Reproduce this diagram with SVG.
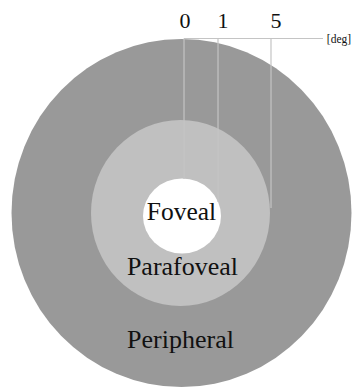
<svg xmlns="http://www.w3.org/2000/svg" width="355" height="389" viewBox="0 0 355 389">
<style>
.t{font-family:"Liberation Serif","Times New Roman",serif;fill:#111;text-anchor:middle}
.ln{stroke:#c4c4c4;stroke-width:1.2;fill:none}
</style>
<rect width="355" height="389" fill="#fff"/>
<g id="peripheral">
<ellipse cx="181.5" cy="213" rx="170" ry="174" fill="#999999"/>
</g>
<g id="parafoveal">
<ellipse cx="180.5" cy="213" rx="89.5" ry="93" fill="#c0c0c0"/>
</g>
<g id="foveal">
<ellipse cx="182" cy="216" rx="39" ry="37.5" fill="#ffffff"/>
</g>
<g id="connectors">
<line class="ln" x1="184" y1="38.5" x2="323" y2="38.5"/>
<line class="ln" x1="184" y1="38.5" x2="184" y2="179"/>
<line class="ln" x1="218" y1="38.5" x2="218" y2="202"/>
<line class="ln" x1="271" y1="38.5" x2="271" y2="208"/>
</g>
<g id="scale">
<text class="t" x="185" y="28" font-size="22">0</text>
<text class="t" x="223" y="28" font-size="22">1</text>
<text class="t" x="276" y="28" font-size="22">5</text>
<text class="t" x="339" y="43" font-size="11.5">[deg]</text>
</g>
<g id="labels">
<text class="t" x="181.5" y="220" font-size="25.5">Foveal</text>
<text class="t" x="182.5" y="275" font-size="26">Parafoveal</text>
<text class="t" x="180.5" y="347.5" font-size="26">Peripheral</text>
</g>
</svg>
